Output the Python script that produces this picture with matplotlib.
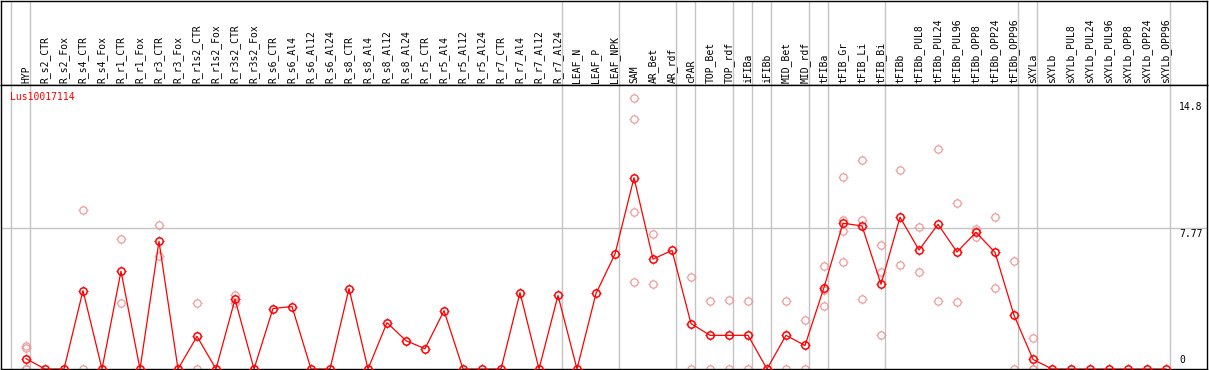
import matplotlib
matplotlib.use("Agg")
import matplotlib.pyplot as plt
from matplotlib.path import Path
import numpy as np

# sample names along the x axis
samples = ["HYP", "R_s2_CTR", "R_s2_Fox", "R_s4_CTR", "R_s4_Fox", "R_r1_CTR", "R_r1_Fox",
           "R_r3_CTR", "R_r3_Fox", "R_r1s2_CTR", "R_r1s2_Fox", "R_r3s2_CTR", "R_r3s2_Fox",
           "R_s6_CTR", "R_s6_Al4", "R_s6_Al12", "R_s6_Al24", "R_s8_CTR", "R_s8_Al4",
           "R_s8_Al12", "R_s8_Al24", "R_r5_CTR", "R_r5_Al4", "R_r5_Al12", "R_r5_Al24",
           "R_r7_CTR", "R_r7_Al4", "R_r7_Al12", "R_r7_Al24", "LEAF_N", "LEAF_P", "LEAF_NPK",
           "SAM", "AR_Bet", "AR_rdf", "cPAR", "TOP_Bet", "TOP_rdf", "iFIBa", "iFIBb",
           "MID_Bet", "MID_rdf", "tFIBa", "tFIB_Gr", "tFIB_Li", "tFIB_Bi", "tFIBb",
           "tFIBb_PUL8", "tFIBb_PUL24", "tFIBb_PUL96", "tFIBb_OPP8", "tFIBb_OPP24", "tFIBb_OPP96",
           "sXYLa", "sXYLb", "sXYLb_PUL8", "sXYLb_PUL24", "sXYLb_PUL96", "sXYLb_OPP8",
           "sXYLb_OPP24", "sXYLb_OPP96"]

# mean expression per sample
mean_expr = [0.57, 0, 0, 4.33, 0, 5.40, 0, 7.05, 0, 1.80, 0, 3.85, 0,
             3.34, 3.45, 0, 0, 4.44, 0, 2.56, 1.56, 1.12, 3.22, 0, 0,
             0, 4.22, 0, 4.06, 0, 4.17, 6.35,
             10.56, 6.07, 6.55, 2.51, 1.86, 1.86, 1.86, 0,
             1.86, 1.30, 4.50, 8.05, 7.90, 4.68, 8.38,
             6.57, 7.99, 6.46, 7.55, 6.44, 2.97,
             0.53, 0, 0, 0, 0, 0, 0, 0]

# replicate values per sample (empty where none show)
replicates = [[1.26, 1.17, 0, 0], [], [], [8.77, 0], [], [7.16, 3.67], [],
              [7.95, 6.22], [], [3.67, 0], [], [4.11, 3.67], [],
              [], [], [], [], [], [], [], [], [], [], [], [],
              [], [], [], [], [], [], [],
              [14.95, 13.78, 8.66, 4.81], [7.46, 4.68], [], [5.06, 0], [3.74, 0], [3.80, 0], [3.74, 0], [],
              [3.76, 0], [2.69, 0], [5.68, 4.35, 3.50], [10.60, 8.23, 7.60, 5.89],
              [11.54, 8.23, 3.84], [6.83, 5.33, 1.90], [10.99, 5.72],
              [7.83, 5.33], [12.15, 3.78], [9.16, 3.72], [7.73, 7.31], [8.38, 4.50], [5.94, 0],
              [1.73, 0, 0], [], [], [], [], [], [], []]

# last sample index of each tissue group (vertical separators)
group_ends = [-1, 0, 28, 31, 34, 35, 37, 38, 39, 41, 42, 45, 52, 53, 60]

gene = "Lus10017114"
y_ticks = [14.8, 7.77, 0]

W, H = 1209, 370
fig = plt.figure(figsize=(W / 100, H / 100), dpi=100)
mono = "DejaVu Sans Mono"
grid_c = "#c4c4c4"

# pixel helpers: plot frame from x=1..1207, header y=0..85, plot y=85..369
def rect(l, t, r, b):
    return [l / W, (H - b) / H, (r - l) / W, (b - t) / H]

xlim = ((1 - 26) / 19, (1207 - 26) / 19)
px_per_unit = 18.11

head = fig.add_axes(rect(1, 0.5, 1207, 85))
ax = fig.add_axes(rect(1, 85, 1207, 369))

for a in (head, ax):
    a.set_xlim(*xlim)
    a.set_xticks([])
    a.set_yticks([])
    for s in a.spines.values():
        s.set_color("black")
        s.set_linewidth(1.0)
    for g in group_ends:
        a.axvline(g + 0.23, color=grid_c, lw=1.0, zorder=0)

head.set_ylim(0, 85)
ax.set_ylim(0, 284 / px_per_unit)
ax.axhline(7.77, color=grid_c, lw=1.0, zorder=0)

x = np.arange(len(samples))
for i, name in enumerate(samples):
    head.text(i, 2.5, name, rotation=90, ha="center", va="bottom",
              fontsize=7, family=mono, color="black")

# four short ticks drawn round each circle
stub_verts, stub_codes = [], []
for dx, dy in [(1, 0), (-1, 0), (0, 1), (0, -1)]:
    stub_verts += [(0.72 * dx, 0.72 * dy), (dx, dy)]
    stub_codes += [Path.MOVETO, Path.LINETO]
stubs = Path(stub_verts, stub_codes)

rx, ry = [], []
for i, vals in enumerate(replicates):
    for v in vals:
        rx.append(i)
        ry.append(v)

for xs, ys, c, mw, z in [(rx, ry, "#ef9a9a", 0.9, 2), (x, mean_expr, "red", 1.1, 3)]:
    ax.plot(xs, ys, linestyle="none", marker="o", markersize=5.3, mfc="none",
            mec=c, mew=mw, zorder=z)
    ax.plot(xs, ys, linestyle="none", marker=stubs, markersize=7.4, mfc="none",
            mec=c, mew=0.8, zorder=z)

ax.plot(x, mean_expr, color="red", lw=0.9, zorder=3)

ax.text(-0.84, 15.02, gene, color="red", fontsize=7, family=mono, ha="left", va="center")

lab_x = (1179 - 26) / 19
for v in y_ticks:
    if v == 0:
        ax.text(lab_x, 0.2, "0", fontsize=7, family=mono, ha="left", va="bottom")
    else:
        ax.text(lab_x, v - 0.05, str(v), fontsize=7, family=mono, ha="left", va="top")

fig.savefig("out.png", dpi=100)
